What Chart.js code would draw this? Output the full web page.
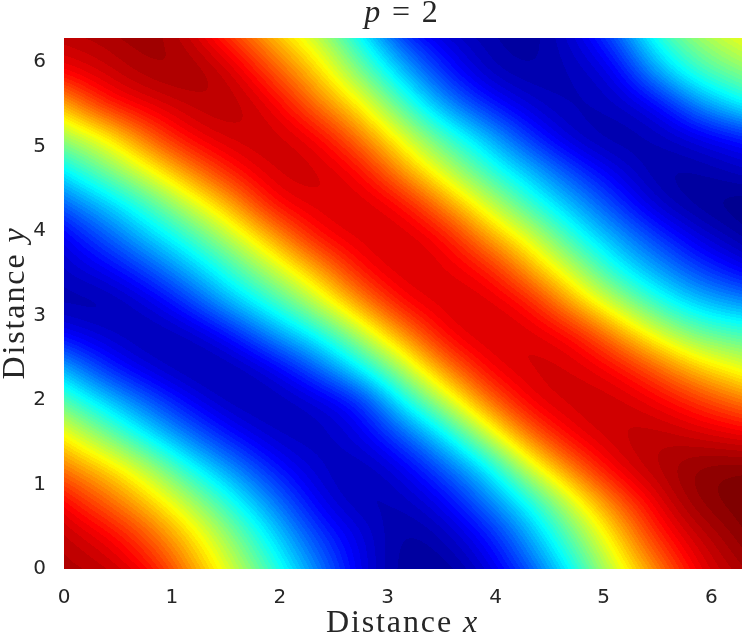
<!DOCTYPE html>
<html>
<head>
<meta charset="utf-8">
<script src="https://cdn.jsdelivr.net/npm/chart.js@4/dist/chart.umd.min.js"></script>
<style>
  html, body { margin: 0; padding: 0; background: #fff; }
  canvas { display: block; }
</style>
</head>
<body>
<canvas id="fieldChart" width="742" height="634"></canvas>
<script>
  // grid positions, multiples of pi/8
  var gridStep = Math.PI / 8
  var xTicks = [0, 1, 2, 3, 4, 5, 6]
  var yTicks = [0, 1, 2, 3, 4, 5, 6]
  var xLimit = 2 * Math.PI
  var yLimit = 2 * Math.PI

  // values, 0 = darkest blue, 1 = darkest red, bottom row first
  var row00 = [.945,.93,.87,.724,.57,.41,.245,.10,.03,.03,.09,.21,.39,.587,.754,.90,.95]
  var row01 = [.93,.89,.79,.66,.505,.337,.18,.10,.03,.06,.135,.29,.473,.66,.845,.93,.98]
  var row02 = [.875,.778,.68,.55,.39,.243,.11,.05,.06,.115,.244,.385,.585,.77,.90,.98,1]
  var row03 = [.755,.68,.56,.39,.265,.145,.075,.05,.10,.21,.345,.575,.76,.895,.945,.985,.99]
  var row04 = [.63,.50,.36,.235,.135,.07,.06,.10,.20,.355,.56,.77,.89,.925,.94,.92,.90]
  var row05 = [.465,.34,.22,.12,.055,.05,.08,.14,.37,.55,.76,.895,.92,.925,.89,.83,.77]
  var row06 = [.30,.165,.09,.045,.045,.10,.215,.36,.54,.74,.885,.915,.915,.88,.79,.685,.61]
  var row07 = [.125,.08,.045,.06,.135,.27,.37,.54,.72,.885,.915,.91,.88,.75,.61,.49,.46]
  var row08 = [.045,.04,.085,.18,.31,.42,.565,.73,.88,.91,.91,.865,.71,.565,.415,.32,.275]
  var row09 = [.075,.11,.195,.305,.43,.57,.71,.87,.915,.90,.865,.715,.57,.39,.285,.185,.12]
  var row10 = [.11,.21,.32,.43,.57,.72,.875,.905,.915,.875,.72,.595,.41,.29,.18,.09,.04]
  var row11 = [.225,.32,.44,.58,.72,.885,.905,.915,.875,.73,.58,.42,.30,.18,.07,.025,.01]
  var row12 = [.37,.49,.61,.75,.865,.92,.92,.875,.72,.575,.42,.31,.185,.10,.035,.04,.07]
  var row13 = [.53,.62,.785,.89,.92,.925,.885,.755,.60,.435,.31,.165,.07,.035,.06,.10,.14]
  var row14 = [.71,.86,.90,.93,.945,.89,.755,.635,.44,.27,.15,.08,.05,.07,.115,.27,.37]
  var row15 = [.89,.92,.955,.965,.92,.79,.665,.49,.31,.15,.06,.04,.06,.10,.30,.445,.51]
  var row16 = [.93,.945,.97,.93,.82,.69,.57,.386,.18,.09,.05,.03,.08,.19,.41,.53,.60]

  var field = [row00, row01, row02, row03, row04, row05, row06, row07, row08,
               row09, row10, row11, row12, row13, row14, row15, row16]

  var colorLevels = 64

  function ramp(t) {
    return Math.max(0, Math.min(1, t))
  }

  // jet colormap
  function jet(v) {
    return [
      ramp(Math.min(4 * v - 1.5, -4 * v + 4.5)) * 255,
      ramp(Math.min(4 * v - 0.5, -4 * v + 3.5)) * 255,
      ramp(Math.min(4 * v + 0.5, -4 * v + 2.5)) * 255
    ]
  }

  // cubic b-spline weights, evens out small reading errors in the grid
  function spline(a, b, c, d, t) {
    var s = 1 - t
    return (s * s * s * a + (3 * t * t * t - 6 * t * t + 4) * b + (-3 * t * t * t + 3 * t * t + 3 * t + 1) * c + t * t * t * d) / 6
  }

  function rowValue(r, i) {
    if (i < 0) return 2 * r[0] - r[-i]
    if (i > 16) return 2 * r[16] - r[32 - i]
    return r[i]
  }

  function cellValue(i, j) {
    if (j < 0) return 2 * rowValue(field[0], i) - rowValue(field[-j], i)
    if (j > 16) return 2 * rowValue(field[16], i) - rowValue(field[32 - j], i)
    return rowValue(field[j], i)
  }

  function sampleField(x, y) {
    var fx = x / gridStep, fy = y / gridStep
    var i = Math.min(15, Math.max(0, Math.floor(fx)))
    var j = Math.min(15, Math.max(0, Math.floor(fy)))
    var tx = fx - i, ty = fy - j
    var rows = []
    for (var k = -1; k <= 2; k++) {
      rows.push(spline(cellValue(i - 1, j + k), cellValue(i, j + k), cellValue(i + 1, j + k), cellValue(i + 2, j + k), tx))
    }
    return spline(rows[0], rows[1], rows[2], rows[3], ty)
  }

  // paints the filled contours under the datasets, pixel by pixel through the chart's scales
  var contourPlugin = {
    id: 'contourFill',
    beforeDatasetsDraw: function(chart) {
      var area = chart.chartArea
      var left = Math.round(area.left), top = Math.round(area.top)
      var w = Math.round(area.right) - left, h = Math.round(area.bottom) - top
      var sheet = document.createElement('canvas')
      sheet.width = w
      sheet.height = h
      var sheetCtx = sheet.getContext('2d')
      var img = sheetCtx.createImageData(w, h)
      for (var py = 0; py < h; py++) {
        var yVal = chart.scales.y.getValueForPixel(top + py + 0.5)
        for (var px = 0; px < w; px++) {
          var xVal = chart.scales.x.getValueForPixel(left + px + 0.5)
          var v = ramp(sampleField(xVal, yVal))
          var c = jet(Math.min(colorLevels - 1, Math.floor(v * colorLevels)) / (colorLevels - 1))
          var n = (py * w + px) * 4
          img.data[n] = c[0]
          img.data[n + 1] = c[1]
          img.data[n + 2] = c[2]
          img.data[n + 3] = 255
        }
      }
      sheetCtx.putImageData(img, 0, 0)
      chart.ctx.drawImage(sheet, left, top)
    }
  }

  // labels mix roman and italic, so they are set piece by piece
  function mixedText(ctx, parts, cx, baseline, rotate) {
    ctx.save()
    ctx.translate(cx, baseline)
    ctx.rotate(rotate)
    ctx.textBaseline = 'alphabetic'
    ctx.textAlign = 'left'
    ctx.fillStyle = '#262626'
    ctx.letterSpacing = '1.9px'
    var total = 0
    parts.forEach(function(p) {
      ctx.font = p.font
      total += ctx.measureText(p.text).width
    })
    var pos = -total / 2
    parts.forEach(function(p) {
      ctx.font = p.font
      ctx.fillText(p.text, pos, 0)
      pos += ctx.measureText(p.text).width
    })
    ctx.restore()
  }

  var labelPlugin = {
    id: 'mixedLabels',
    afterDraw: function(chart) {
      var ctx = chart.ctx
      var roman = '32px "Liberation Serif"', italic = 'italic 32px "Liberation Serif"'
      mixedText(ctx, [{text: 'p', font: italic}, {text: ' = 2', font: roman}], 402, 22, 0)
      mixedText(ctx, [{text: 'Distance ', font: roman}, {text: 'x', font: italic}], 402.5, 632, 0)
      mixedText(ctx, [{text: 'Distance ', font: roman}, {text: 'y', font: italic}], 24, 303, -Math.PI / 2)
    }
  }

  var gridPoints = []
  field.forEach(function(r, j) {
    r.forEach(function(v, i) {
      gridPoints.push({x: i * gridStep, y: j * gridStep, v: v})
    })
  })

  var ctx = document.getElementById('fieldChart').getContext('2d')

  var fieldChart = new Chart(ctx, {
    type: 'scatter',
    data: {
      datasets: [{
        label: 'p = 2',
        data: gridPoints,
        pointRadius: 0,
        pointHoverRadius: 0
      }]
    },
    options: {
      responsive: false,
      animation: false,
      events: [],
      layout: { padding: { top: 38, right: 0, left: 0, bottom: 0 } },
      plugins: { legend: { display: false }, tooltip: { enabled: false } },
      scales: {
        x: {
          type: 'linear',
          min: 0,
          max: xLimit,
          grid: { display: false },
          border: { display: false },
          afterBuildTicks: function(scale) {
            scale.ticks = xTicks.map(function(v) { return {value: v} })
          },
          afterFit: function(scale) { scale.height = 65 },
          ticks: {
            maxRotation: 0,
            padding: 9,
            color: '#262626',
            font: { family: '"DejaVu Sans"', size: 20 },
            callback: function(v) { return v }
          }
        },
        y: {
          type: 'linear',
          min: 0,
          max: yLimit,
          grid: { display: false },
          border: { display: false },
          afterBuildTicks: function(scale) {
            scale.ticks = yTicks.map(function(v) { return {value: v} })
          },
          afterFit: function(scale) { scale.width = 64 },
          ticks: {
            padding: 10,
            color: '#262626',
            font: { family: '"DejaVu Sans"', size: 20 },
            callback: function(v) { return v }
          }
        }
      }
    },
    plugins: [contourPlugin, labelPlugin]
  })
</script>
</body>
</html>
